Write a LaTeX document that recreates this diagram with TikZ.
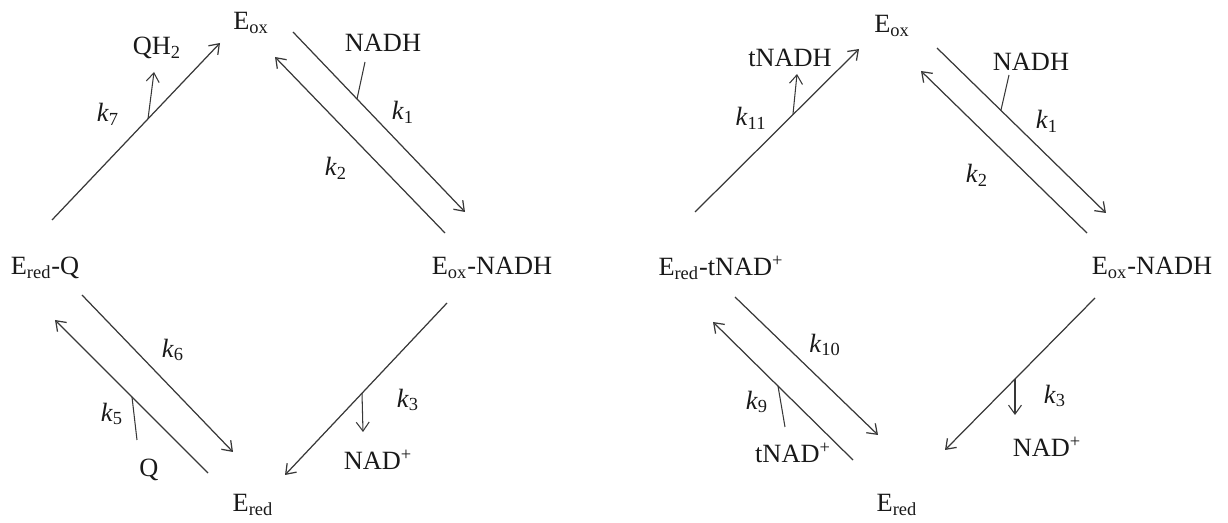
\documentclass[tikz,border=0pt]{standalone}
\usepackage{fontspec}
\setmainfont{Liberation Serif}
\usepackage{tikz}
\usetikzlibrary{arrows.meta}

\newcommand{\kr}[1]{\textit{k}\textsubscript{#1}}

\begin{document}
\begin{tikzpicture}[x=0.02cm, y=-0.02cm, >={Straight Barb[length=1.8mm, width=2.6mm]},
    rxn/.style={->, line width=0.7pt, draw=black!78},
    side/.style={line width=0.6pt, draw=black!78},
    lbl/.style={inner sep=0pt, font=\fontsize{15}{18}\selectfont, text=black!90}]
    \useasboundingbox (0,0) rectangle (1228,523);

    % Sơ đồ trái
    \node[lbl] (eoxL) at (251,23) {E\textsubscript{ox}};
    \node[lbl] (eoxnadhL) at (492,268) {E\textsubscript{ox}-NADH};
    \node[lbl] (eredL) at (253,505) {E\textsubscript{red}};
    \node[lbl] (eredqL) at (45,268) {E\textsubscript{red}-Q};
    \node[lbl] (qhL) at (157,48) {QH\textsubscript{2}};
    \node[lbl] (nadhL) at (383,43) {NADH};
    \node[lbl] (nadpL) at (378,460) {NAD\textsuperscript{+}};
    \node[lbl] (qL) at (149,470) {Q};
    \node[lbl] (k7) at (108,114) {\kr{7}};
    \node[lbl] (k1L) at (403,112) {\kr{1}};
    \node[lbl] (k2L) at (336,168) {\kr{2}};
    \node[lbl] (k6) at (173,350) {\kr{6}};
    \node[lbl] (k5) at (112,414) {\kr{5}};
    \node[lbl] (k3L) at (408,400) {\kr{3}};

    \coordinate (a7s) at (52,220);  \coordinate (a7e) at (220,43);
    \coordinate (a1s) at (293,32);  \coordinate (a1e) at (465,212);
    \coordinate (a2s) at (445,233); \coordinate (a2e) at (275,57);
    \coordinate (a3s) at (447,303); \coordinate (a3e) at (285,475);
    \coordinate (a6s) at (82,295);  \coordinate (a6e) at (233,452);
    \coordinate (a5s) at (208,473); \coordinate (a5e) at (55,320);

    \draw[rxn] (a7s) -- (a7e);
    \draw[rxn] (a1s) -- (a1e);
    \draw[rxn] (a2s) -- (a2e);
    \draw[rxn] (a3s) -- (a3e);
    \draw[rxn] (a6s) -- (a6e);
    \draw[rxn] (a5s) -- (a5e);

    % nhánh phụ
    \coordinate (b7) at (148,119);  \coordinate (b7e) at (154,72);
    \coordinate (b1) at (357,99);   \coordinate (b1e) at (365,62);
    \coordinate (b3) at (362,393);  \coordinate (b3e) at (363,432);
    \coordinate (b5) at (132,397);  \coordinate (b5e) at (137,440);
    \draw[rxn, line width=0.6pt] (b7) -- (b7e);
    \draw[side] (b1e) -- (b1);
    \draw[rxn, line width=0.6pt] (b3) -- (b3e);
    \draw[side] (b5e) -- (b5);

    % Sơ đồ phải
    \node[lbl] (eoxR) at (892,26) {E\textsubscript{ox}};
    \node[lbl] (eoxnadhR) at (1152,268) {E\textsubscript{ox}-NADH};
    \node[lbl] (eredR) at (897,505) {E\textsubscript{red}};
    \node[lbl] (eredtR) at (721,268) {E\textsubscript{red}-tNAD\textsuperscript{+}};
    \node[lbl] (tnadhR) at (790,58) {tNADH};
    \node[lbl] (nadhR) at (1031,62) {NADH};
    \node[lbl] (nadpR) at (1047,447) {NAD\textsuperscript{+}};
    \node[lbl] (tnadpR) at (793,453) {tNAD\textsuperscript{+}};
    \node[lbl] (k11) at (751,118) {\kr{11}};
    \node[lbl] (k1R) at (1047,121) {\kr{1}};
    \node[lbl] (k2R) at (977,175) {\kr{2}};
    \node[lbl] (k10) at (825,345) {\kr{10}};
    \node[lbl] (k9) at (757,402) {\kr{9}};
    \node[lbl] (k3R) at (1055,396) {\kr{3}};

    \coordinate (c11s) at (695,212); \coordinate (c11e) at (859,49);
    \coordinate (c1s) at (937,48);   \coordinate (c1e) at (1106,213);
    \coordinate (c2s) at (1087,233); \coordinate (c2e) at (921,71);
    \coordinate (c3s) at (1095,298); \coordinate (c3e) at (945,450);
    \coordinate (c10s) at (735,297); \coordinate (c10e) at (878,435);
    \coordinate (c9s) at (853,460);  \coordinate (c9e) at (713,322);

    \draw[rxn] (c11s) -- (c11e);
    \draw[rxn] (c1s) -- (c1e);
    \draw[rxn] (c2s) -- (c2e);
    \draw[rxn] (c3s) -- (c3e);
    \draw[rxn] (c10s) -- (c10e);
    \draw[rxn] (c9s) -- (c9e);

    \coordinate (d11) at (793,114); \coordinate (d11e) at (797,74);
    \coordinate (d1) at (1001,110); \coordinate (d1e) at (1009,75);
    \coordinate (d3) at (1015,379); \coordinate (d3e) at (1015,415);
    \coordinate (d9) at (778,386);  \coordinate (d9e) at (785,427);
    \draw[rxn, line width=0.6pt] (d11) -- (d11e);
    \draw[side] (d1e) -- (d1);
    \draw[rxn, line width=0.6pt] (d3) -- (d3e);
    \draw[side] (d9e) -- (d9);
\end{tikzpicture}
\end{document}
